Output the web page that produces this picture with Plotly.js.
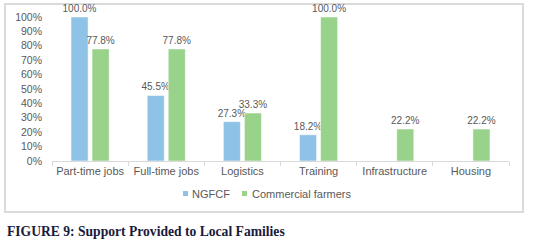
<!DOCTYPE html>
<html>
<head>
<meta charset="utf-8">
<script src="https://cdn.plot.ly/plotly-3.0.1.min.js"></script>
<style>
html,body{margin:0;padding:0;background:#fff;}
#chart{width:537px;height:244px;}
</style>
</head>
<body>
<div id="chart"></div>
<script>
const categories = ["Part-time jobs", "Full-time jobs", "Logistics", "Training", "Infrastructure", "Housing"];
const ngfcf = [1.0, 0.455, 0.273, 0.182, null, null];
const commercial = [0.778, 0.778, 0.333, 1.0, 0.222, 0.222];
const seriesNames = ["NGFCF", "Commercial farmers"];
const seriesColors = ["#8ec3e7", "#98d28b"];
const captionText = "FIGURE 9: Support Provided to Local Families";

const FAM = "Liberation Sans, Arial, sans-serif";
const labelFont = {family: FAM, size: 10, color: "#595959"};

const traces = [0, 1].map(i => ({
  type: "bar", name: seriesNames[i], x: categories, y: i === 0 ? ngfcf : commercial,
  marker: {color: seriesColors[i], line: {color: "#ffffff", width: 0.5}},
  texttemplate: "%{y:.1%}", textposition: "outside", textfont: labelFont,
  constraintext: "none", cliponaxis: false, hoverinfo: "skip", showlegend: false
}));

// legend drawn as small squares + text (paper coords)
const legendShapes = [
  {type: "rect", xref: "paper", yref: "paper", x0: 0.2867, x1: 0.2976, y0: -0.2431, y1: -0.2083,
   fillcolor: seriesColors[0], line: {width: 0}},
  {type: "rect", xref: "paper", yref: "paper", x0: 0.4158, x1: 0.4267, y0: -0.2431, y1: -0.2083,
   fillcolor: seriesColors[1], line: {width: 0}}
];
const legendAnn = [
  {xref: "paper", yref: "paper", x: 0.302, xanchor: "left", y: -0.2257, yanchor: "middle",
   showarrow: false, text: seriesNames[0], font: {family: FAM, size: 11, color: "#595959"}},
  {xref: "paper", yref: "paper", x: 0.4333, xanchor: "left", y: -0.2257, yanchor: "middle",
   showarrow: false, text: seriesNames[1], font: {family: FAM, size: 11, color: "#595959"}}
];

const layout = {
  width: 537, height: 244,
  margin: {l: 52, r: 28, t: 17, b: 83, pad: 0},
  paper_bgcolor: "#ffffff", plot_bgcolor: "#ffffff",
  font: labelFont,
  barmode: "group", bargap: 0.447, bargroupgap: 0.19,
  showlegend: false,
  xaxis: {
    type: "category", showgrid: false, zeroline: false,
    showline: true, linecolor: "#d9d9d9", linewidth: 1,
    ticks: "outside", tickson: "boundaries", ticklen: 4, tickcolor: "#d9d9d9",
    tickangle: 0, automargin: false,
    tickfont: {family: FAM, size: 11, color: "#595959"}
  },
  yaxis: {
    range: [0, 1], dtick: 0.1, tick0: 0, tickformat: ".0%",
    showgrid: false, zeroline: false, showline: false,
    ticklabelstandoff: 9, automargin: false,
    tickfont: {family: FAM, size: 10.5, color: "#595959"}
  },
  shapes: [
    {type: "rect", xref: "paper", yref: "paper",
     x0: -0.1028, x1: 1.0306, y0: -0.354, y1: 1.0903,
     line: {color: "#d9d9d9", width: 2}, fillcolor: "rgba(0,0,0,0)", layer: "below"}
  ].concat(legendShapes),
  annotations: [
    {xref: "paper", yref: "paper", x: -0.103, xanchor: "left",
     y: -0.493, yanchor: "middle", showarrow: false,
     text: "<b>" + captionText + "</b>",
     font: {family: "Liberation Serif, Times New Roman, serif", size: 13.6, color: "#1a1a3a"}}
  ].concat(legendAnn)
};

Plotly.newPlot("chart", traces, layout, {staticPlot: true, displayModeBar: false});
</script>
</body>
</html>
